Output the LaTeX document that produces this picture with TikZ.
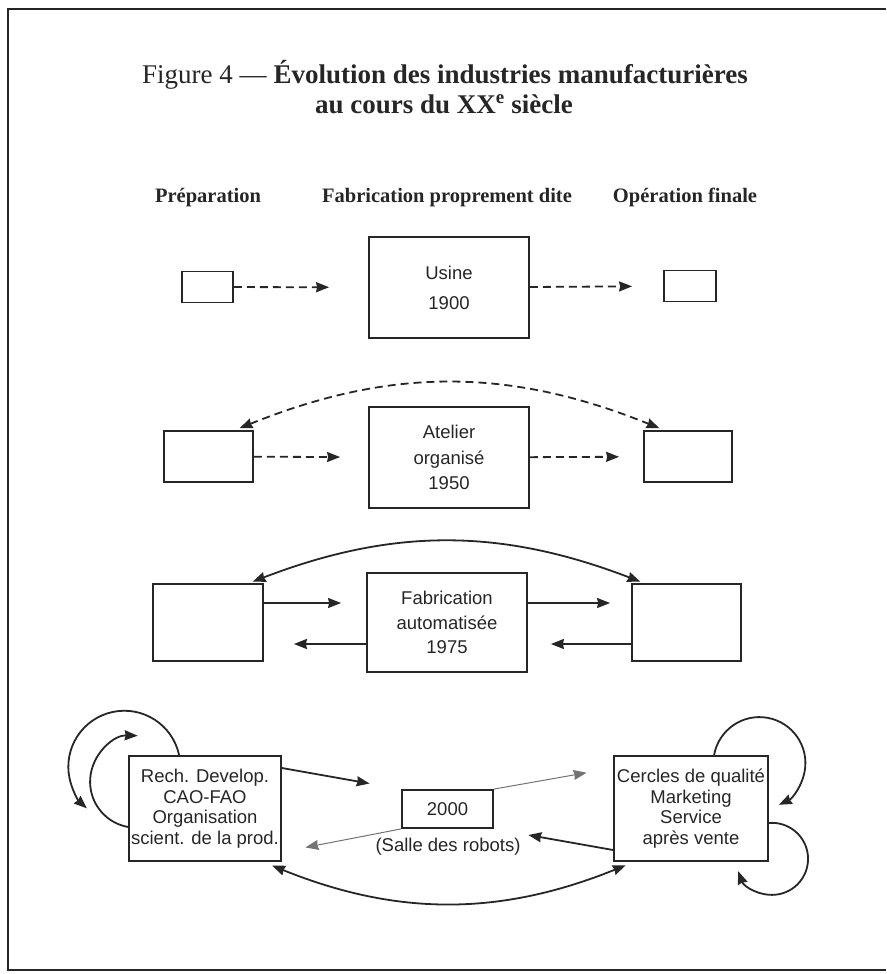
\documentclass[tikz,border=0pt]{standalone}
\usepackage{fontspec}
\setmainfont{Liberation Serif}
\setsansfont{Liberation Sans}
\usepackage{tikz}
\usetikzlibrary{arrows.meta,calc,positioning}
\newcommand{\boxfont}[1]{\sffamily\fontsize{18.5}{#1}\selectfont}

\begin{document}
\begin{tikzpicture}[->,>={Stealth[length=13pt,width=10pt,inset=1pt]},x=1pt,y=-1pt,line width=1.8pt,color=black!85,
		box/.style={draw,rectangle,inner sep=0pt,align=center},
		dashline/.style={dash pattern=on 8pt off 5pt},
		thinline/.style={line width=1pt,black!55},
		head/.style={font=\bfseries\fontsize{20.5}{24}\selectfont,anchor=base}]
					\useasboundingbox (0,0) rectangle (886,974);
					\draw[-,line width=2.6pt] (886,9) -- (8,9) -- (8,970) -- (886,970);
					
					\node[anchor=base,font=\fontsize{27}{30}\selectfont] (title1) at (445,83) {Figure 4 — \textbf{Évolution des industries manufacturières}};
					\node[anchor=base,font=\bfseries\fontsize{27}{30}\selectfont] (title2) at (444,113) {au cours du XX\textsuperscript{e} siècle};
					
					\node[head] (prep) at (208,202) {Préparation};
					\node[head] (fabr) at (447,202) {Fabrication proprement dite};
					\node[head] (fin) at (685,202) {Opération finale};
					
					% 1900
					\node[box,minimum width=51pt,minimum height=31pt] (p1) at (207.5,287) {};
					\node[box,minimum width=160pt,minimum height=101pt,font=\boxfont{30}] (u1) at (449,287.5) {Usine\\1900};
					\node[box,minimum width=52pt,minimum height=31pt] (o1) at (690,286) {};
					\draw[dashline,shorten >=39pt] (p1) -- (u1);
					\draw[dashline,shorten >=31pt] (u1) -- (o1);
					
					% 1950
					\node[box,minimum width=89pt,minimum height=51pt] (p2) at (208.5,456.5) {};
					\node[box,minimum width=160pt,minimum height=101pt,font=\boxfont{25.5}] (u2) at (449,457.5) {Atelier\\organisé\\1950};
					\node[box,minimum width=88pt,minimum height=51pt] (o2) at (688,456.5) {};
					\draw[dashline,shorten >=28pt] (p2) -- (u2);
					\draw[dashline,shorten >=24pt] (u2) -- (o2);
					\draw[dashline,<->,bend angle=22,bend left,shorten <=5pt,shorten >=5pt] ([xshift=-19pt]p2.north east) to ([xshift=21pt]o2.north west);
					
					% 1975
					\node[box,minimum width=110pt,minimum height=77pt] (p3) at (208,622.5) {};
					\node[box,minimum width=160pt,minimum height=99pt,font=\boxfont{24.5}] (u3) at (447,622.5) {Fabrication\\automatisée\\1975};
					\node[box,minimum width=109pt,minimum height=77pt] (o3) at (686.5,622.5) {};
					\draw[shorten >=25pt] ([yshift=19.5pt]p3.east) -- ([yshift=19.5pt]u3.west);
					\draw[shorten >=30pt] ([yshift=-21.5pt]u3.west) -- ([yshift=-21.5pt]p3.east);
					\draw[shorten >=21pt] ([yshift=19.5pt]u3.east) -- ([yshift=19.5pt]o3.west);
					\draw[shorten >=23pt] ([yshift=-21.5pt]o3.west) -- ([yshift=-21.5pt]u3.east);
					\draw[<->,bend angle=21,bend left,shorten <=4pt,shorten >=4pt] ([xshift=-15pt]p3.north east) to ([xshift=13pt]o3.north west);
					
					% 2000
					\node[box,minimum width=152pt,minimum height=105pt,font=\boxfont{20.5}] (rd) at (205,808.5) {Rech. Develop.\\CAO-FAO\\Organisation\\scient. de la prod.};
					\node[box,minimum width=91pt,minimum height=38pt,font=\boxfont{20}] (yr) at (447.5,809) {2000};
					\node[font=\boxfont{20}] (robots) at (448,847) {(Salle des robots)};
					\node[box,minimum width=154pt,minimum height=105pt,font=\boxfont{20.5}] (cq) at (691,808.5) {Cercles de qualité\\Marketing\\Service\\après vente};
					
					\draw[shorten >=32pt] ([yshift=40.5pt]rd.east) -- (yr.north west);
					\draw[thinline,shorten >=27pt] (yr.north east) -- ([yshift=40.5pt]cq.west);
					\draw[thinline,shorten >=24pt] (yr.south west) -- ([yshift=-43.5pt]rd.east);
					\draw[shorten >=35pt] ([yshift=-41.5pt]cq.west) -- (yr.south east);
					\draw[<->,bend angle=22,bend right,shorten <=10pt,shorten >=9pt] ([xshift=-19pt]rd.south east) to ([xshift=21pt]cq.south west);
					
					\draw ([xshift=51pt]rd.north west) arc[start angle=12,end angle=228,radius=56pt];
					\draw ([yshift=-18.5pt]rd.west) arc[start angle=260,end angle=88,radius=46pt];
					\draw ([xshift=101pt]cq.north west) arc[start angle=170,end angle=-65,radius=46pt];
					\draw ([yshift=-14.5pt]cq.east) arc[start angle=95,end angle=-160,radius=36pt];
\end{tikzpicture}
\end{document}
